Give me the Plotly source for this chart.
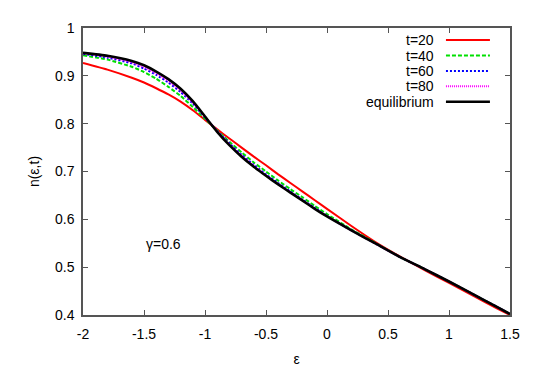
import plotly.graph_objects as go

# energy grid (epsilon) and occupation n(eps, t)
eps = [-2.0, -1.8, -1.6, -1.5, -1.4, -1.3, -1.2, -1.1, -1.0, -0.9, -0.8, -0.7, -0.6, -0.5,
       -0.4, -0.3, -0.2, -0.1, 0.0, 0.2, 0.4, 0.6, 0.8, 1.0, 1.2, 1.4, 1.5]

n_t20 = [0.927, 0.913, 0.896, 0.886, 0.874, 0.861, 0.846, 0.828, 0.808, 0.788, 0.769, 0.750, 0.731, 0.713,
         0.694, 0.676, 0.658, 0.640, 0.622, 0.586, 0.552, 0.522, 0.494, 0.467, 0.440, 0.413, 0.400]
n_t40 = [0.943, 0.934, 0.919, 0.908, 0.894, 0.877, 0.858, 0.835, 0.810, 0.786, 0.762, 0.740, 0.719, 0.700,
         0.681, 0.663, 0.646, 0.628, 0.611, 0.579, 0.550, 0.521, 0.496, 0.470, 0.443, 0.416, 0.402]
n_t60 = [0.946, 0.938, 0.926, 0.915, 0.902, 0.886, 0.866, 0.842, 0.813, 0.785, 0.759, 0.735, 0.714, 0.694,
         0.676, 0.658, 0.641, 0.624, 0.607, 0.577, 0.549, 0.521, 0.496, 0.470, 0.443, 0.416, 0.402]
n_t80 = [0.947, 0.940, 0.928, 0.918, 0.905, 0.889, 0.869, 0.844, 0.814, 0.784, 0.757, 0.733, 0.712, 0.692,
         0.674, 0.657, 0.640, 0.623, 0.607, 0.577, 0.549, 0.521, 0.496, 0.470, 0.443, 0.416, 0.402]
n_eq = [0.948, 0.942, 0.931, 0.922, 0.909, 0.893, 0.873, 0.847, 0.815, 0.783, 0.755, 0.731, 0.710, 0.691,
        0.673, 0.656, 0.639, 0.622, 0.606, 0.577, 0.549, 0.521, 0.496, 0.470, 0.443, 0.416, 0.402]

labels = ["t=20", "t=40", "t=60", "t=80", "equilibrium"]
colors = ["#ff0000", "#00e000", "#0000ff", "#ff00ff", "#000000"]
dashes = ["solid", "4px,2px", "2px,2px", "1px,1px", "solid"]
widths = [2, 2, 2, 2, 2.6]

x_tick_vals = [-2, -1.5, -1, -0.5, 0, 0.5, 1, 1.5]
x_tick_text = ["-2", "-1.5", "-1", "-0.5", "0", "0.5", "1", "1.5"]
y_tick_vals = [0.4, 0.5, 0.6, 0.7, 0.8, 0.9, 1.0]
y_tick_text = ["0.4", "0.5", "0.6", "0.7", "0.8", "0.9", "1"]

FONT = "Liberation Sans, Arial, sans-serif"

fig = go.Figure()

series = [n_t20, n_t40, n_t60, n_t80, n_eq]
for name, ys, c, d, w in zip(labels, series, colors, dashes, widths):
    fig.add_trace(go.Scatter(
        x=eps, y=ys, name=name, mode="lines",
        line=dict(color=c, dash=d, width=w, shape="spline", smoothing=0.5),
        showlegend=False,
    ))

# gnuplot-style key: text right-aligned, sample line on the right
key_y = [0.958, 0.904, 0.850, 0.797, 0.743]
for name, c, d, w, ky in zip(labels, colors, dashes, widths, key_y):
    fig.add_annotation(x=0.827, y=ky, xref="paper", yref="paper", text=name,
                       showarrow=False, xanchor="right", yanchor="middle",
                       font=dict(size=14, color="black", family=FONT))
    fig.add_shape(type="line", xref="paper", yref="paper",
                  x0=0.850, x1=0.953, y0=ky, y1=ky,
                  line=dict(color=c, dash=d, width=w))

fig.add_annotation(x=-1.34, y=0.548, xref="x", yref="y", text="γ=0.6",
                   showarrow=False, font=dict(size=14, color="black", family=FONT))

axis_style = dict(
    showgrid=False, zeroline=False, showline=True, mirror="allticks",
    linecolor="#555555", linewidth=1.5,
    ticks="inside", ticklen=5, tickcolor="#555555", tickwidth=1,
    tickfont=dict(size=14, color="black", family=FONT),
)

fig.update_layout(
    width=530, height=369,
    margin=dict(l=75, r=28, t=12, b=50),
    plot_bgcolor="white", paper_bgcolor="white",
    xaxis=dict(range=[-2, 1.5], tickvals=x_tick_vals, ticktext=x_tick_text,
               ticklabelstandoff=5,
               title=dict(text="ε", font=dict(size=14, color="black", family=FONT), standoff=14),
               **axis_style),
    yaxis=dict(range=[0.4, 1.0], tickvals=y_tick_vals, ticktext=y_tick_text,
               ticklabelstandoff=4,
               title=dict(text="n(ε,t)", font=dict(size=14, color="black", family=FONT), standoff=12),
               **axis_style),
)

fig.write_html("out.html")
